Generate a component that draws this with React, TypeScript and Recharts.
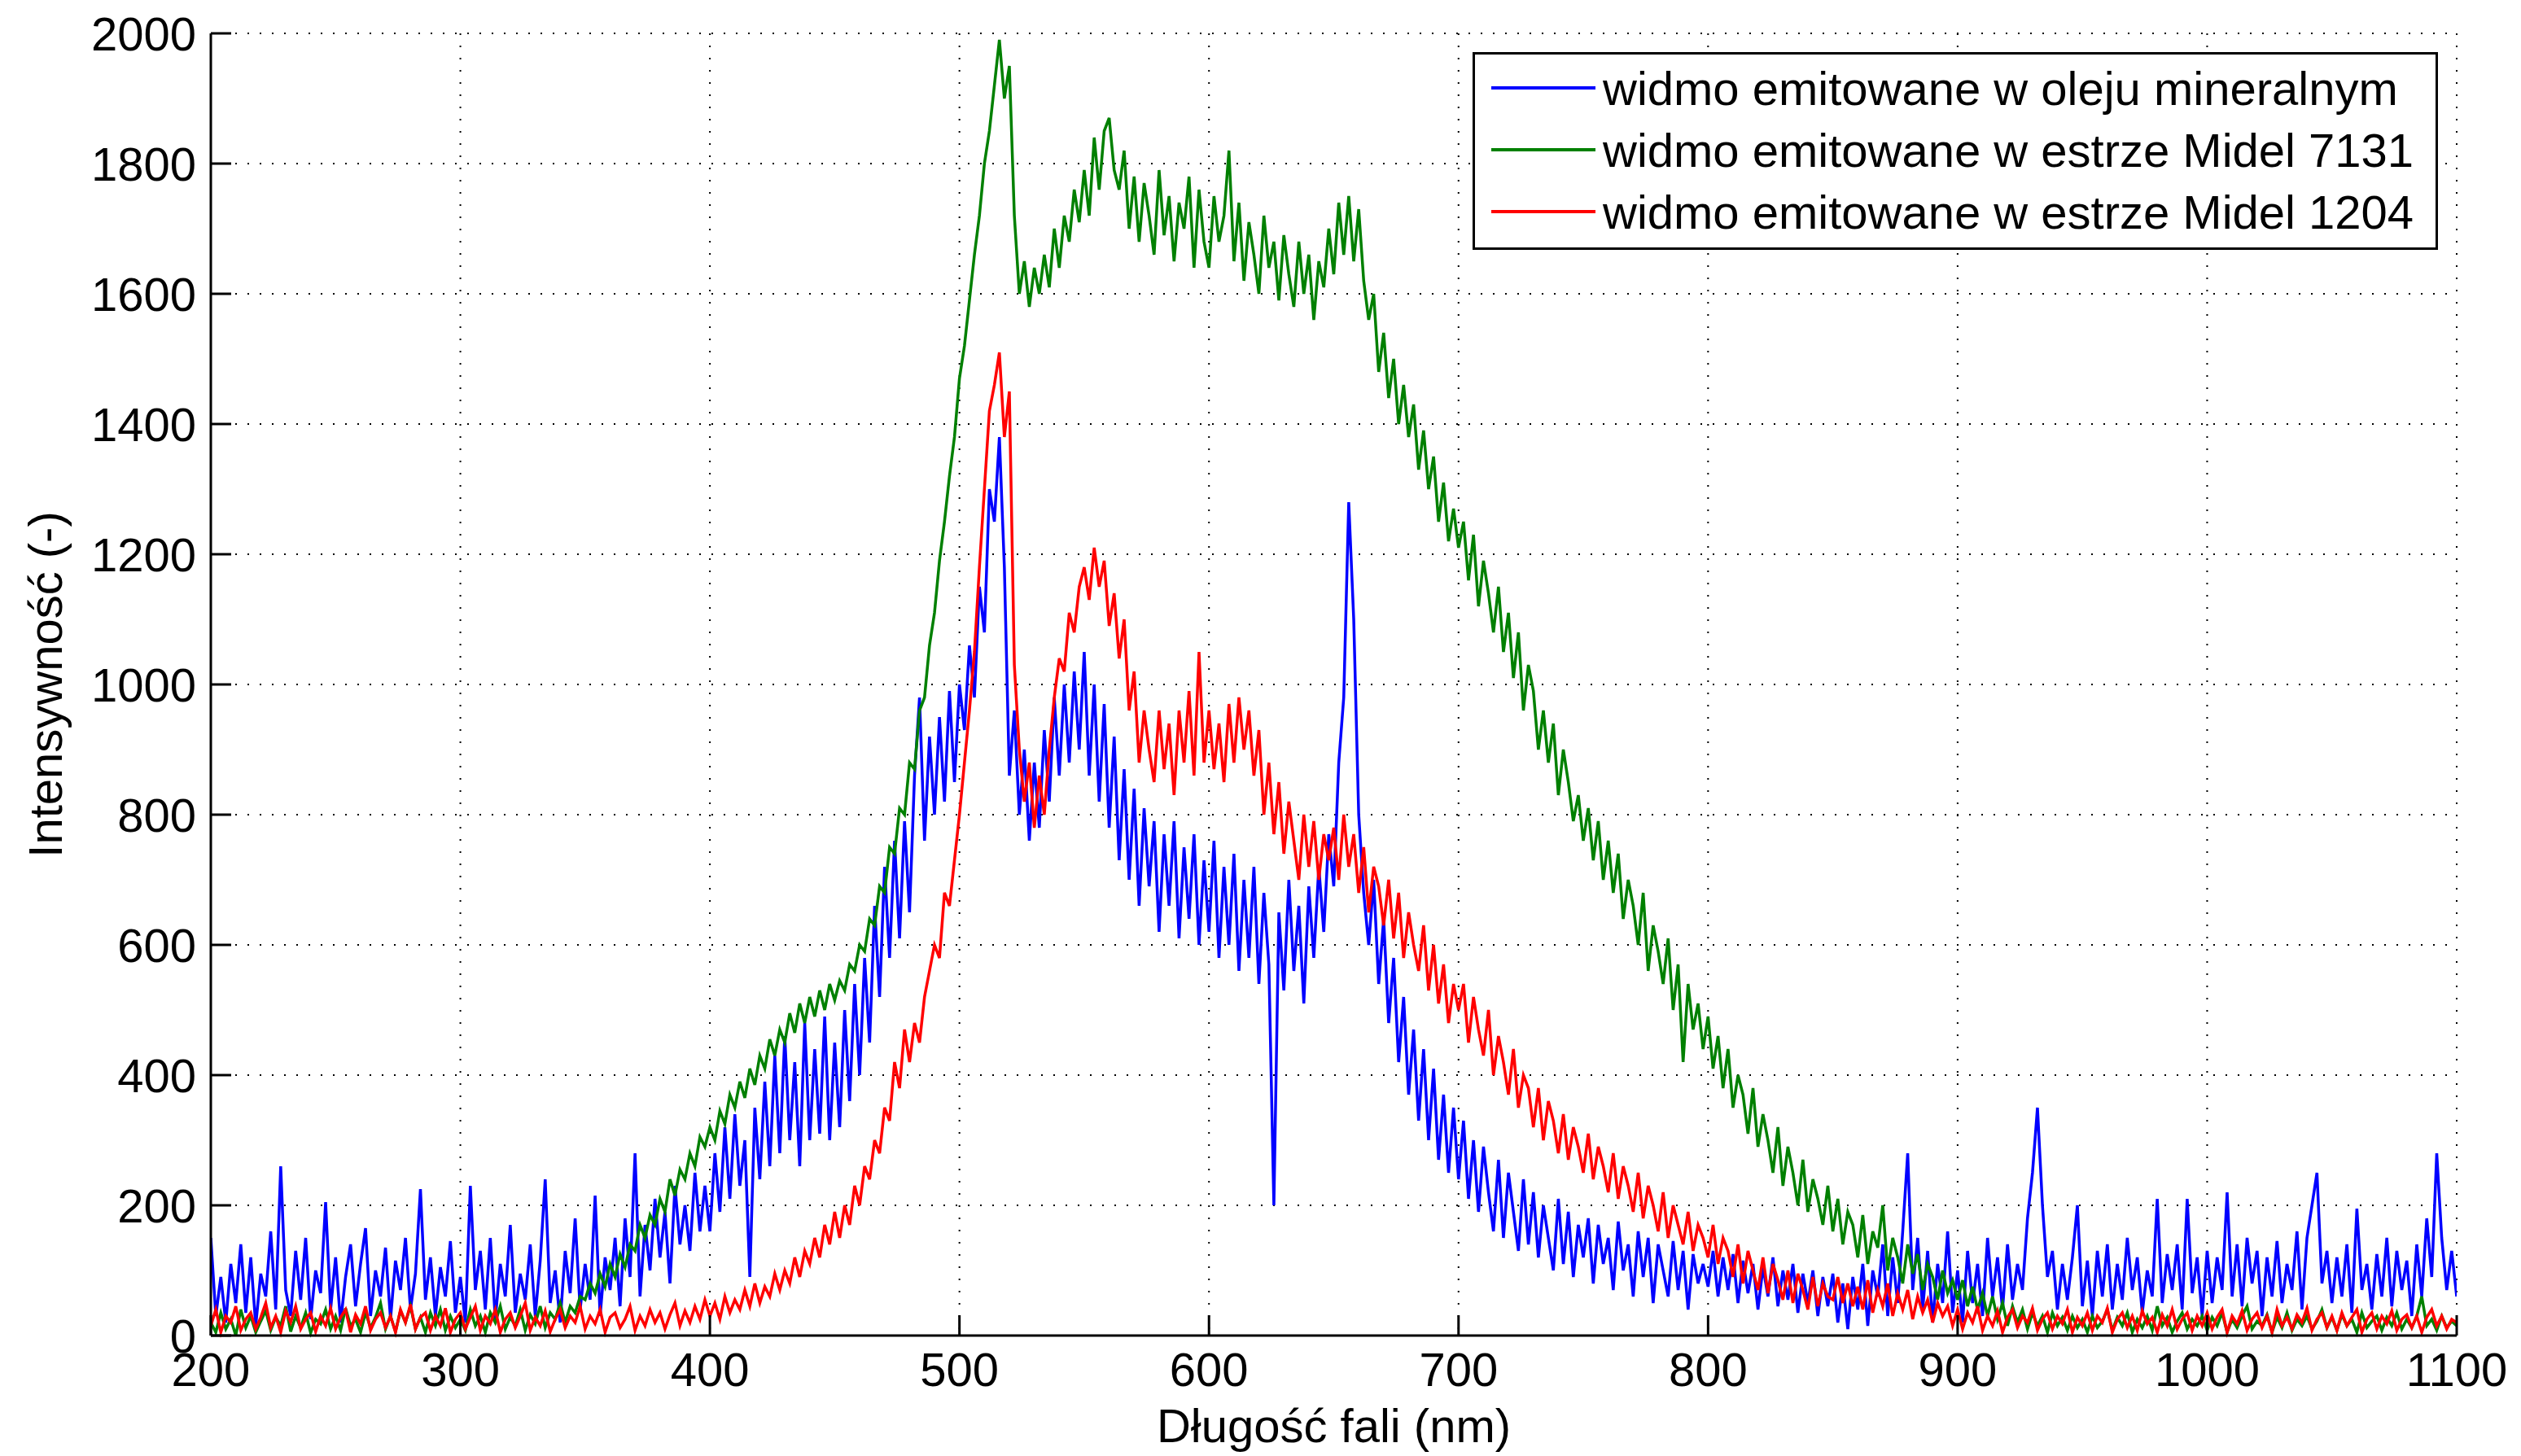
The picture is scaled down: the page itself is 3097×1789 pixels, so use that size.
import React from 'react';
import { LineChart, Line, XAxis, YAxis, CartesianGrid, Legend } from 'recharts';

// spectra sampled every 2 nm from 200 nm (one row = 50 nm)
const START_NM = 200;
const STEP_NM = 2;

const xTicks = [200, 300, 400, 500, 600, 700, 800, 900, 1000, 1100];
const yTicks = [0, 200, 400, 600, 800, 1000, 1200, 1400, 1600, 1800, 2000];

// widmo emitowane w oleju mineralnym
const mineralOil = [
    150, 30, 90, 20, 110, 50, 140, 35, 120, 15, 95, 60, 160, 40, 260, 70, 30, 130, 55, 150, 25, 100, 65, 205, 40,
    120, 20, 90, 140, 45, 110, 165, 30, 100, 60, 135, 25, 115, 70, 150, 40, 95, 225, 55, 120, 30, 105, 60, 145, 35,
    90, 20, 230, 70, 130, 40, 150, 25, 110, 60, 170, 35, 95, 55, 140, 30, 115, 240, 50, 100, 20, 130, 65, 180, 40,
    110, 55, 215, 30, 120, 70, 150, 45, 180, 90, 280, 60, 170, 100, 210, 120, 190, 80, 230, 140, 200, 130, 250, 160, 230,
    160, 280, 190, 320, 210, 340, 230, 300, 90, 350, 240, 390, 260, 430, 280, 460, 300, 420, 260, 480, 300, 440, 310, 490, 300,
    450, 320, 500, 360, 540, 400, 580, 450, 660, 520, 720, 580, 760, 610, 790, 650, 860, 980, 760, 920, 800, 950, 820, 990, 850,
    1000, 930, 1060, 980, 1150, 1080, 1300, 1250, 1380, 1180, 860, 960, 800, 900, 760, 880, 780, 930, 820, 980, 860, 1000, 880, 1020, 900,
    1050, 860, 1000, 820, 970, 780, 920, 730, 870, 700, 840, 660, 810, 690, 790, 620, 770, 660, 790, 610, 750, 640, 770, 600, 730,
    620, 760, 580, 720, 600, 740, 560, 700, 580, 720, 540, 680, 570, 200, 650, 530, 700, 560, 660, 510, 690, 580, 720, 620, 770,
    690, 880, 980, 1280, 1100, 800, 680, 600, 700, 540, 640, 480, 580, 420, 520, 370, 470, 330, 440, 300, 410, 270, 370, 250, 350,
    240, 330, 210, 300, 190, 290, 220, 160, 270, 150, 250, 190, 130, 240, 140, 220, 120, 200, 150, 100, 210, 110, 190, 90, 170,
    120, 180, 80, 170, 110, 150, 70, 175, 100, 140, 60, 160, 90, 150, 50, 140, 100, 60, 145, 70, 130, 40, 125, 80, 110,
    75, 130, 60, 120, 70, 125, 50, 115, 65, 110, 40, 105, 60, 120, 45, 100, 55, 110, 35, 95, 50, 100, 30, 90, 45,
    95, 20, 80, 10, 90, 40, 110, 15, 100, 60, 140, 30, 120, 50, 160, 280, 70, 150, 40, 130, 20, 110, 50, 160, 35,
    100, 20, 130, 50, 110, 30, 150, 60, 120, 40, 140, 55, 110, 70, 180, 250, 350, 200, 90, 130, 40, 110, 55, 120, 200,
    45, 115, 30, 130, 60, 140, 40, 110, 55, 150, 70, 120, 35, 100, 60, 210, 50, 125, 70, 140, 40, 210, 65, 120, 30,
    130, 50, 120, 70, 220, 60, 140, 45, 150, 80, 130, 30, 120, 60, 145, 50, 110, 70, 160, 40, 150, 200, 250, 80, 130,
    50, 120, 60, 140, 35, 195, 70, 110, 40, 125, 60, 150, 45, 130, 70, 115, 30, 140, 60, 180, 90, 280, 150, 70, 130,
    60,
];

// widmo emitowane w estrze Midel 7131
const midel7131 = [
    20, 5, 35, 10, 25, 0, 40, 12, 30, 5, 22, 38, 8, 28, 15, 45, 6, 30, 12, 35, 4, 25, 18, 40, 10,
    30, 8, 42, 15, 25, 5, 35, 12, 28, 50, 10, 30, 6, 38, 20, 45, 10, 28, 5, 35, 15, 40, 8, 30, 12,
    25, 8, 40, 15, 30, 5, 35, 20, 45, 10, 28, 15, 40, 8, 32, 18, 45, 12, 35, 25, 50, 20, 45, 35, 60,
    55, 80, 65, 95, 75, 110, 90, 125, 105, 140, 130, 170, 150, 185, 170, 210, 190, 240, 215, 255, 240, 280, 260, 305, 290,
    320, 300, 345, 325, 370, 350, 390, 365, 410, 385, 430, 410, 455, 430, 470, 450, 495, 465, 510, 480, 520, 490, 530, 500, 540,
    515, 545, 530, 570, 560, 600, 590, 640, 630, 690, 680, 750, 740, 810, 800, 880, 870, 960, 980, 1060, 1110, 1190, 1250, 1320, 1380,
    1470, 1520, 1590, 1660, 1720, 1800, 1850, 1920, 1990, 1900, 1950, 1720, 1600, 1650, 1580, 1640, 1600, 1660, 1610, 1700, 1640, 1720, 1680, 1760, 1710,
    1790, 1720, 1840, 1760, 1850, 1870, 1790, 1760, 1820, 1700, 1780, 1680, 1770, 1720, 1660, 1790, 1690, 1750, 1650, 1740, 1700, 1780, 1640, 1760, 1680,
    1640, 1750, 1680, 1720, 1820, 1650, 1740, 1620, 1710, 1660, 1600, 1720, 1640, 1680, 1590, 1690, 1630, 1580, 1680, 1600, 1660, 1560, 1650, 1610, 1700,
    1630, 1740, 1660, 1750, 1650, 1730, 1620, 1560, 1600, 1480, 1540, 1440, 1500, 1400, 1460, 1380, 1430, 1330, 1390, 1300, 1350, 1250, 1310, 1220, 1270,
    1210, 1250, 1160, 1230, 1120, 1190, 1140, 1080, 1150, 1050, 1110, 1010, 1080, 960, 1030, 990, 900, 960, 880, 940, 830, 900, 850, 790, 830,
    760, 810, 730, 790, 700, 760, 680, 740, 640, 700, 660, 600, 680, 560, 630, 590, 540, 610, 500, 570, 420, 540, 470, 510, 440,
    490, 410, 460, 380, 440, 350, 400, 370, 310, 380, 290, 340, 300, 250, 320, 230, 290, 250, 200, 270, 190, 240, 210, 170, 230,
    160, 210, 140, 190, 170, 120, 185, 110, 160, 135, 200, 100, 150, 120, 80, 140, 95, 125, 70, 110, 90, 55, 100, 65, 85,
    55, 85, 45, 75, 40, 65, 30, 60, 25, 50, 15, 45, 20, 40, 10, 35, 15, 30, 5, 35, 15, 28, 8, 30, 12,
    25, 5, 30, 12, 22, 40, 8, 28, 15, 35, 5, 25, 12, 30, 8, 45, 15, 28, 5, 22, 35, 10, 25, 15, 30,
    8, 28, 15, 35, 5, 25, 12, 30, 45, 10, 22, 15, 32, 5, 28, 12, 35, 8, 25, 15, 30, 10, 22, 40, 12,
    28, 8, 32, 15, 25, 5, 35, 12, 22, 30, 8, 28, 15, 35, 10, 25, 12, 30, 60, 15, 25, 8, 30, 12, 22,
    15,
];

// widmo emitowane w estrze Midel 1204
const midel1204 = [
    15, 40, 5, 30, 20, 45, 8, 25, 35, 10, 28, 50, 12, 30, 5, 38, 20, 45, 10, 25, 35, 6, 30, 15, 42,
    10, 28, 40, 5, 32, 18, 45, 8, 25, 35, 12, 30, 5, 40, 20, 48, 10, 28, 35, 8, 30, 15, 42, 5, 25,
    35, 10, 28, 45, 8, 30, 18, 40, 5, 25, 35, 12, 30, 50, 8, 28, 15, 38, 6, 25, 40, 12, 30, 20, 45,
    10, 30, 18, 40, 5, 28, 35, 12, 25, 45, 8, 30, 15, 40, 20, 35, 10, 32, 50, 15, 38, 20, 45, 25, 55,
    30, 50, 25, 60, 35, 55, 40, 70, 45, 80, 50, 75, 60, 95, 70, 100, 80, 120, 90, 130, 110, 150, 120, 170, 140,
    190, 150, 200, 170, 230, 200, 260, 240, 300, 280, 350, 330, 420, 380, 470, 420, 480, 450, 520, 560, 600, 580, 680, 660, 730,
    800, 880, 960, 1050, 1180, 1300, 1420, 1460, 1510, 1380, 1450, 1030, 900, 820, 880, 780, 860, 800, 900, 980, 1040, 1020, 1110, 1080, 1150,
    1180, 1130, 1210, 1150, 1190, 1090, 1140, 1040, 1100, 960, 1020, 880, 960, 900, 850, 960, 870, 940, 830, 960, 880, 990, 860, 1050, 880,
    960, 870, 940, 850, 970, 880, 980, 900, 960, 860, 930, 800, 880, 770, 850, 740, 820, 760, 700, 800, 720, 790, 700, 770, 730,
    780, 700, 800, 720, 770, 680, 750, 650, 720, 690, 630, 700, 610, 680, 580, 650, 600, 560, 630, 530, 600, 510, 570, 480, 540,
    500, 540, 450, 520, 470, 430, 500, 400, 460, 420, 370, 440, 350, 400, 380, 320, 380, 300, 360, 330, 280, 340, 270, 320, 290,
    250, 310, 240, 290, 260, 220, 280, 210, 260, 230, 190, 250, 180, 230, 200, 160, 220, 150, 200, 170, 140, 190, 130, 170, 150,
    120, 170, 110, 150, 130, 90, 140, 80, 130, 100, 70, 120, 65, 110, 85, 55, 100, 50, 95, 70, 40, 90, 45, 80, 60,
    55, 90, 50, 80, 45, 75, 40, 85, 35, 70, 45, 80, 30, 65, 40, 70, 25, 60, 35, 55, 20, 50, 30, 45, 15,
    40, 10, 35, 20, 45, 8, 30, 15, 38, 5, 28, 40, 12, 30, 20, 42, 8, 25, 35, 10, 30, 18, 40, 5, 28,
    15, 35, 8, 30, 20, 42, 5, 25, 35, 12, 30, 8, 38, 18, 28, 5, 32, 15, 40, 10, 25, 35, 8, 30, 15,
    35, 10, 28, 40, 5, 30, 18, 38, 8, 25, 35, 12, 30, 5, 40, 15, 28, 10, 32, 20, 42, 8, 25, 35, 12,
    30, 8, 35, 15, 28, 40, 5, 25, 35, 10, 30, 18, 38, 8, 25, 32, 12, 30, 5, 28, 40, 15, 30, 10, 25,
    20,
];

const series = [
    { key: 'oil', name: 'widmo emitowane w oleju mineralnym', color: '#0000ff' },
    { key: 'm7131', name: 'widmo emitowane w estrze Midel 7131', color: '#008000' },
    { key: 'm1204', name: 'widmo emitowane w estrze Midel 1204', color: '#ff0000' },
];

const data = mineralOil.map((v, i) => ({
    nm: START_NM + i * STEP_NM,
    oil: v,
    m7131: midel7131[i],
    m1204: midel1204[i],
}));

const FONT = '"Liberation Sans", Arial, sans-serif';
const FS = 58;

const LegendBox = () => (
    <div style={{
        boxSizing: 'border-box', width: 1186, border: '3px solid #000', background: '#fff',
        padding: '3px 0 6px 20px', fontFamily: FONT,
    }}>
        {series.map(s => (
            <div key={s.key} style={{ display: 'flex', alignItems: 'center', height: 76 }}>
                <svg width={128} height={8}>
                    <line x1={0} y1={4} x2={128} y2={4} stroke={s.color} strokeWidth={4} />
                </svg>
                <span style={{ marginLeft: 9, fontSize: FS, color: '#000', whiteSpace: 'nowrap' }}>{s.name}</span>
            </div>
        ))}
    </div>
);

export default function App() {
    const tickStyle = { fontSize: FS, fill: '#000', fontFamily: FONT };
    return (
        <div style={{ width: 3080, height: 1778, background: '#fff' }}>
            <LineChart width={3080} height={1778} data={data}
                margin={{ top: 33, right: 70, bottom: 5, left: 0 }}
                style={{ fontFamily: FONT }}>
                <CartesianGrid stroke="#000" strokeWidth={2} strokeDasharray="2 13" />
                <XAxis dataKey="nm" type="number" domain={[200, 1100]} ticks={xTicks} allowDataOverflow
                    height={140} tick={tickStyle} tickSize={-25} tickMargin={46}
                    axisLine={{ stroke: '#000', strokeWidth: 3 }} tickLine={{ stroke: '#000', strokeWidth: 3 }}
                    label={{
                        content: (p: any) => (
                            <text x={p.viewBox.x + p.viewBox.width / 2} y={p.viewBox.y + 131} textAnchor="middle"
                                fontSize={FS} fontFamily={FONT} fill="#000">Długość fali (nm)</text>
                        ),
                    }} />
                <XAxis xAxisId="top" orientation="top" type="number" domain={[200, 1100]} ticks={xTicks}
                    height={0} tick={false} tickSize={-25}
                    axisLine={{ stroke: '#000', strokeWidth: 3 }} tickLine={{ stroke: '#000', strokeWidth: 3 }} />
                <YAxis type="number" domain={[0, 2000]} ticks={yTicks} width={251}
                    tick={tickStyle} tickSize={-25} tickMargin={43}
                    axisLine={{ stroke: '#000', strokeWidth: 3 }} tickLine={{ stroke: '#000', strokeWidth: 3 }}
                    label={{
                        content: (p: any) => {
                            const cx = 47;
                            const cy = p.viewBox.y + p.viewBox.height / 2;
                            return (
                                <text x={cx} y={cy} transform={`rotate(-90 ${cx} ${cy})`} textAnchor="middle"
                                    dominantBaseline="central" fontSize={FS} fontFamily={FONT} fill="#000">
                                    Intensywność (-)
                                </text>
                            );
                        },
                    }} />
                <YAxis yAxisId="right" orientation="right" type="number" domain={[0, 2000]} ticks={yTicks}
                    width={0} tick={false} tickSize={-25}
                    axisLine={{ stroke: '#000', strokeWidth: 3 }} tickLine={{ stroke: '#000', strokeWidth: 3 }} />
                {series.map(s => (
                    <Line key={s.key} type="linear" dataKey={s.key} name={s.name} stroke={s.color}
                        strokeWidth={3.5} dot={false} isAnimationActive={false} />
                ))}
                <Legend layout="vertical" align="center" verticalAlign="middle" content={<LegendBox />}
                    wrapperStyle={{ left: 1801, top: 56, width: 1186, height: 243 }} />
            </LineChart>
        </div>
    );
}
